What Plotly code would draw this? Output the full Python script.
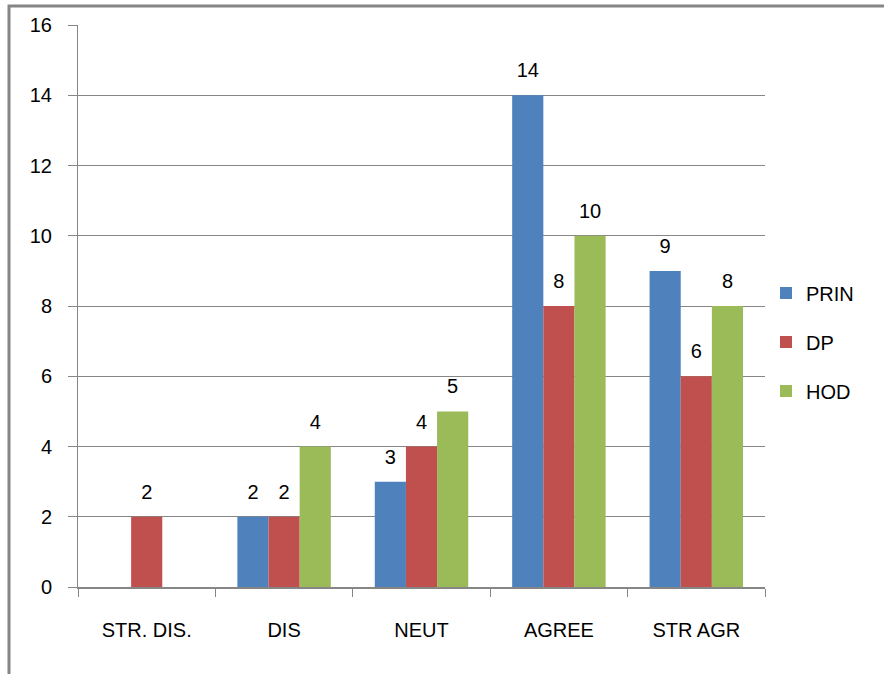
import plotly.graph_objects as go

categories = ["STR. DIS.", "DIS", "NEUT", "AGREE", "STR AGR"]
prin = [0, 2, 3, 14, 9]
dp = [2, 2, 4, 8, 6]
hod = [0, 4, 5, 10, 8]
series = [("PRIN", prin, "#4F81BD"), ("DP", dp, "#C0504D"), ("HOD", hod, "#9BBB59")]
y_ticks = [0, 2, 4, 6, 8, 10, 12, 14, 16]

FONT = "Liberation Sans"
FS = 20
GRAY = "#868686"

fig = go.Figure()
for i, (name, vals, color) in enumerate(series):
    fig.add_trace(go.Bar(
        x=categories, y=vals, name=name, marker_color=color, marker_line_width=0,
        text=[("<span style='font-size:%dpx'>%d</span><br> " % (FS, v)) if v else "" for v in vals],
        textposition="outside",
        textfont=dict(family=FONT, size=10, color="black"), cliponaxis=False,
        legendgroup=name,
    ))

W, H = 884, 674
l, r, t, b = 78, W - 765, 25, H - 587
pw, ph = W - l - r, H - t - b
fx = lambda px: (px - l) / pw
fy = lambda py: (H - b - py) / ph

fig.update_layout(
    width=W, height=H, margin=dict(l=l, r=r, t=t, b=b),
    paper_bgcolor="white", plot_bgcolor="white",
    barmode="group", bargap=0.32, bargroupgap=0,
    font=dict(family=FONT, size=FS, color="black"),
    showlegend=True,
    legend=dict(x=fx(766), y=fy(342), xanchor="left", yanchor="middle",
                traceorder="grouped", tracegroupgap=20,
                font=dict(family=FONT, size=FS, color="black")),
)
fig.update_xaxes(
    type="category", tickson="boundaries", ticks="outside", ticklen=8,
    tickcolor=GRAY, showline=True, linecolor=GRAY, linewidth=2,
    showgrid=False, ticklabelstandoff=24,
    tickfont=dict(family=FONT, size=FS, color="black"),
)
fig.update_yaxes(
    range=[0, 16], tickvals=y_ticks, ticks="outside", ticklen=9, tickcolor=GRAY,
    showline=True, linecolor=GRAY, linewidth=1, showgrid=True, gridcolor=GRAY,
    gridwidth=1, zeroline=False, ticklabelstandoff=12,
    tickfont=dict(family=FONT, size=FS, color="black"),
)
# outer chart frame (partially off-canvas, as in the reference)
fig.add_shape(type="rect", xref="paper", yref="paper",
              x0=fx(9), x1=fx(W + 20), y0=fy(H + 20), y1=fy(6),
              line=dict(color=GRAY, width=3), layer="below")

fig.write_html("out.html", config={"displayModeBar": False},
               post_script="document.body.style.margin='0';document.body.style.overflow='hidden';")
